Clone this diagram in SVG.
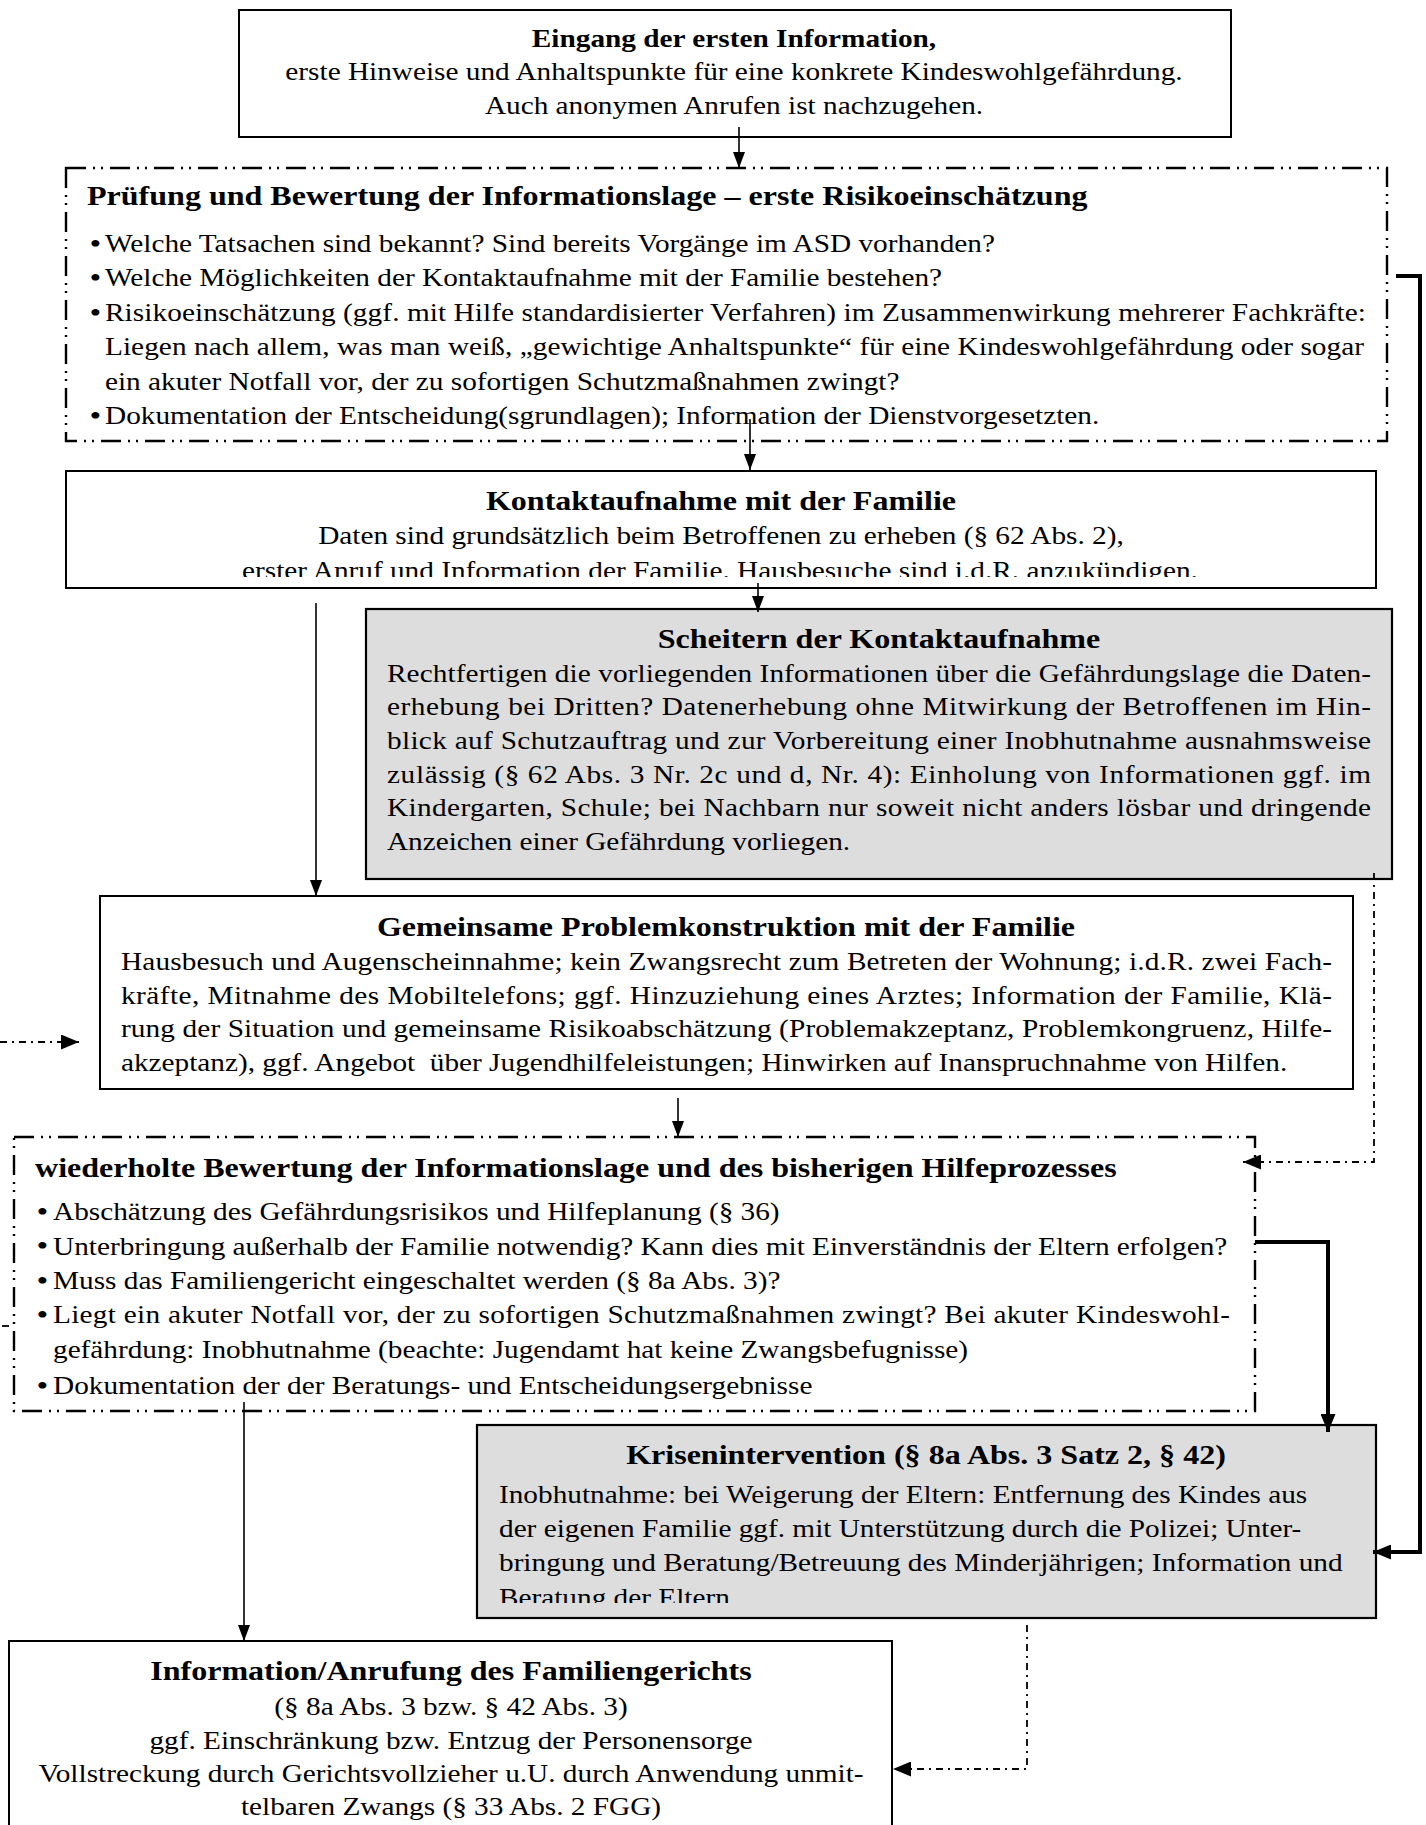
<svg xmlns="http://www.w3.org/2000/svg" width="1426" height="1825" viewBox="0 0 1426 1825">
<style>
text { font-family: "Liberation Serif", "Times New Roman", serif; font-size: 24.4px; fill: #000; }
.b { font-weight: bold; }
.h { font-weight: bold; font-size: 26.7px; }
.c { text-anchor: middle; }
.bu { font-size: 28px; }
.box { fill: #fff; stroke: #000; stroke-width: 2; }
.gray { fill: #dddddd; stroke: #000; stroke-width: 2.2; }
.dd { fill: #fff; stroke: #000; stroke-width: 2.4; stroke-dasharray: 20 7 2 6 2 7; }
.ln { fill: none; stroke: #000; stroke-width: 1.6; }
.thick { fill: none; stroke: #000; stroke-width: 4; }
.dc { fill: none; stroke: #000; stroke-width: 1.8; stroke-dasharray: 7 5 2 5; }
</style>
<defs>
<marker id="ah" markerUnits="userSpaceOnUse" markerWidth="16" markerHeight="12" refX="16" refY="6" orient="auto"><path d="M0,0 L16,6 L0,12 Z" fill="#000"/></marker>
<marker id="ahb" markerUnits="userSpaceOnUse" markerWidth="18" markerHeight="15" refX="18" refY="7.5" orient="auto"><path d="M0,0 L18,7.5 L0,15 Z" fill="#000"/></marker>
<clipPath id="clip3"><rect x="66" y="471" width="1310" height="106"/></clipPath>
<clipPath id="clip7"><rect x="477" y="1425" width="899" height="178"/></clipPath>
</defs>

<g id="n1">
<rect class="box" x="239" y="10" width="992" height="127"/>
<g transform="scale(1.2 1)">
<text class="b c" x="611.67" y="47">Eingang der ersten Information,</text>
<text class="c" x="611.67" y="80.5">erste Hinweise und Anhaltspunkte für eine konkrete Kindeswohlgefährdung.</text>
<text class="c" x="611.67" y="114">Auch anonymen Anrufen ist nachzugehen.</text>
</g>
</g>

<g id="n2">
<rect class="dd" x="66" y="168" width="1321" height="273"/>
<g transform="scale(1.2 1)">
<text class="h" x="72.5" y="205">Prüfung und Bewertung der Informationslage – erste Risikoeinschätzung</text>
<text class="bu" x="74.6" y="253">•</text><text x="87.5" y="252">Welche Tatsachen sind bekannt? Sind bereits Vorgänge im ASD vorhanden?</text>
<text class="bu" x="74.6" y="287.5">•</text><text x="87.5" y="286.5">Welche Möglichkeiten der Kontaktaufnahme mit der Familie bestehen?</text>
<text class="bu" x="74.6" y="322">•</text><text x="87.5" y="321" textLength="1050.8" lengthAdjust="spacing">Risikoeinschätzung (ggf. mit Hilfe standardisierter Verfahren) im Zusammenwirkung mehrerer Fachkräfte:</text>
<text x="87.5" y="355.5" textLength="1049.2" lengthAdjust="spacing">Liegen nach allem, was man weiß, „gewichtige Anhaltspunkte“ für eine Kindeswohlgefährdung oder sogar</text>
<text x="87.5" y="390">ein akuter Notfall vor, der zu sofortigen Schutzmaßnahmen zwingt?</text>
<text class="bu" x="74.6" y="425.5">•</text><text x="87.5" y="424.5">Dokumentation der Entscheidung(sgrundlagen); Information der Dienstvorgesetzten.</text>
</g>
</g>

<g id="n3">
<rect class="box" x="66" y="471" width="1310" height="117"/>
<g clip-path="url(#clip3)">
<g transform="scale(1.2 1)">
<text class="h c" x="600.83" y="510">Kontaktaufnahme mit der Familie</text>
<text class="c" x="600.83" y="544">Daten sind grundsätzlich beim Betroffenen zu erheben (§ 62 Abs. 2),</text>
<text class="c" x="600" y="579">erster Anruf und Information der Familie. Hausbesuche sind i.d.R. anzukündigen.</text>
</g>
</g>
</g>

<g id="n4">
<rect class="gray" x="366" y="609" width="1026" height="270"/>
<g transform="scale(1.2 1)">
<text class="h c" x="732.5" y="648">Scheitern der Kontaktaufnahme</text>
<text x="322.5" y="682" textLength="820" lengthAdjust="spacing">Rechtfertigen die vorliegenden Informationen über die Gefährdungslage die Daten-</text>
<text x="322.5" y="715.5" textLength="820" lengthAdjust="spacing">erhebung bei Dritten? Datenerhebung ohne Mitwirkung der Betroffenen im Hin-</text>
<text x="322.5" y="749" textLength="820" lengthAdjust="spacing">blick auf Schutzauftrag und zur Vorbereitung einer Inobhutnahme ausnahmsweise</text>
<text x="322.5" y="783" textLength="820" lengthAdjust="spacing">zulässig (§ 62 Abs. 3 Nr. 2c und d, Nr. 4): Einholung von Informationen ggf. im</text>
<text x="322.5" y="816.5" textLength="820" lengthAdjust="spacing">Kindergarten, Schule; bei Nachbarn nur soweit nicht anders lösbar und dringende</text>
<text x="322.5" y="850">Anzeichen einer Gefährdung vorliegen.</text>
</g>
</g>

<g id="n5">
<rect class="box" x="100" y="896" width="1253" height="193"/>
<g transform="scale(1.2 1)">
<text class="h c" x="605" y="936">Gemeinsame Problemkonstruktion mit der Familie</text>
<text x="100.83" y="970" textLength="1009.2" lengthAdjust="spacing">Hausbesuch und Augenscheinnahme; kein Zwangsrecht zum Betreten der Wohnung; i.d.R. zwei Fach-</text>
<text x="100.83" y="1004" textLength="1009.2" lengthAdjust="spacing">kräfte, Mitnahme des Mobiltelefons; ggf. Hinzuziehung eines Arztes; Information der Familie, Klä-</text>
<text x="100.83" y="1037.5" textLength="1009.2" lengthAdjust="spacing">rung der Situation und gemeinsame Risikoabschätzung (Problemakzeptanz, Problemkongruenz, Hilfe-</text>
<text x="100.83" y="1071">akzeptanz), ggf. Angebot&#160; über Jugendhilfeleistungen; Hinwirken auf Inanspruchnahme von Hilfen.</text>
</g>
</g>

<g id="n6">
<rect class="dd" x="14" y="1137" width="1241" height="274"/>
<g transform="scale(1.2 1)">
<text class="h" x="29.17" y="1177">wiederholte Bewertung der Informationslage und des bisherigen Hilfeprozesses</text>
<text class="bu" x="30.5" y="1221">•</text><text x="44.17" y="1220">Abschätzung des Gefährdungsrisikos und Hilfeplanung (§ 36)</text>
<text class="bu" x="30.5" y="1255.5">•</text><text x="44.17" y="1254.5">Unterbringung außerhalb der Familie notwendig? Kann dies mit Einverständnis der Eltern erfolgen?</text>
<text class="bu" x="30.5" y="1290">•</text><text x="44.17" y="1289">Muss das Familiengericht eingeschaltet werden (§ 8a Abs. 3)?</text>
<text class="bu" x="30.5" y="1324.5">•</text><text x="44.17" y="1323.5" textLength="980.8" lengthAdjust="spacing">Liegt ein akuter Notfall vor, der zu sofortigen Schutzmaßnahmen zwingt? Bei akuter Kindeswohl-</text>
<text x="44.17" y="1358">gefährdung: Inobhutnahme (beachte: Jugendamt hat keine Zwangsbefugnisse)</text>
<text class="bu" x="30.5" y="1395">•</text><text x="44.17" y="1394">Dokumentation der der Beratungs- und Entscheidungsergebnisse</text>
</g>
</g>

<g id="n7">
<rect class="gray" x="477" y="1425" width="899" height="193"/>
<g clip-path="url(#clip7)">
<g transform="scale(1.2 1)">
<text class="h c" x="771.67" y="1464">Krisenintervention (§ 8a Abs. 3 Satz 2, § 42)</text>
<text x="415.83" y="1503">Inobhutnahme: bei Weigerung der Eltern: Entfernung des Kindes aus</text>
<text x="415.83" y="1537">der eigenen Familie ggf. mit Unterstützung durch die Polizei; Unter-</text>
<text x="415.83" y="1571">bringung und Beratung/Betreuung des Minderjährigen; Information und</text>
<text x="415.83" y="1606">Beratung der Eltern.</text>
</g>
</g>
</g>

<g id="n8">
<rect class="box" x="9" y="1641" width="883" height="200"/>
<g transform="scale(1.2 1)">
<text class="h c" x="375.83" y="1680">Information/Anrufung des Familiengerichts</text>
<text class="c" x="375.83" y="1715">(§ 8a Abs. 3 bzw. § 42 Abs. 3)</text>
<text class="c" x="375.83" y="1749">ggf. Einschränkung bzw. Entzug der Personensorge</text>
<text class="c" x="375.83" y="1782">Vollstreckung durch Gerichtsvollzieher u.U. durch Anwendung unmit-</text>
<text class="c" x="375.83" y="1815">telbaren Zwangs (§ 33 Abs. 2 FGG)</text>
</g>
</g>

<g id="connectors">
<path class="ln" d="M739,127 V168" marker-end="url(#ah)"/>
<path class="ln" d="M750,419 V470" marker-end="url(#ah)"/>
<path class="ln" d="M758,583 V612" marker-end="url(#ah)"/>
<path class="ln" d="M316,603 V896" marker-end="url(#ah)"/>
<path class="ln" d="M678,1098 V1137" marker-end="url(#ah)"/>
<path class="ln" d="M244,1402 V1641" marker-end="url(#ah)"/>
<path class="thick" d="M1396,276 H1420 V1552 H1373" marker-end="url(#ahb)"/>
<path class="thick" d="M1255,1242 H1328 V1432" marker-end="url(#ahb)"/>
<path class="dc" d="M1374,873 V1162 H1243" marker-end="url(#ahb)"/>
<path class="dc" d="M1027,1625 V1769 H893" marker-end="url(#ahb)"/>
<path class="dc" d="M0,1042 H79" marker-end="url(#ahb)"/>
<path class="dc" d="M2,1326 H13"/>
</g>
</svg>
